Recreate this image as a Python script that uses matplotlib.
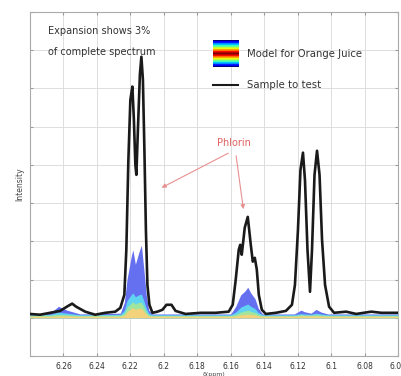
import numpy as np
import matplotlib
matplotlib.use("Agg")
import matplotlib.pyplot as plt

# Sample spectrum trace (ppm, intensity)
sample_ppm = [6.280, 6.274, 6.268, 6.262, 6.2572, 6.2548, 6.2524, 6.247, 6.241, 6.235,
              6.229, 6.226, 6.2236, 6.2224, 6.2212, 6.2200, 6.2188, 6.2179, 6.2170, 6.2164,
              6.2155, 6.2143, 6.2134, 6.2125, 6.2116, 6.2107, 6.2098, 6.2086, 6.2068, 6.2038,
              6.2008, 6.1984, 6.1954, 6.1930, 6.187, 6.178, 6.169, 6.1612, 6.1588, 6.1570,
              6.1552, 6.1543, 6.1534, 6.1516, 6.1498, 6.1480, 6.1468, 6.1456, 6.1444, 6.1432,
              6.1414, 6.139, 6.133, 6.127, 6.1234, 6.1216, 6.1198, 6.1183, 6.1168, 6.1156,
              6.1141, 6.1126, 6.1114, 6.1099, 6.1084, 6.1069, 6.1054, 6.1036, 6.1012, 6.0982,
              6.091, 6.085, 6.076, 6.070, 6.060]
sample_int = [0.10, 0.08, 0.13, 0.18, 0.31, 0.37, 0.29, 0.16, 0.08, 0.13,
              0.16, 0.26, 0.60, 1.78, 4.10, 5.70, 6.05, 5.20, 4.00, 3.74,
              4.90, 6.36, 6.83, 6.23, 4.40, 2.30, 0.86, 0.34, 0.13, 0.16,
              0.21, 0.34, 0.34, 0.18, 0.10, 0.13, 0.13, 0.16, 0.34, 1.00,
              1.78, 1.91, 1.65, 2.36, 2.64, 1.91, 1.47, 1.57, 1.26, 0.60,
              0.21, 0.10, 0.13, 0.18, 0.34, 0.86, 2.30, 3.87, 4.32, 3.60,
              1.78, 0.68, 1.78, 3.74, 4.37, 3.74, 2.04, 0.86, 0.29, 0.13,
              0.16, 0.10, 0.16, 0.13, 0.13]

# Model for orange juice: envelope layers (outer -> inner)
model_ppm = [6.280, 6.268, 6.263, 6.258, 6.250, 6.226, 6.2236, 6.2220, 6.2195, 6.2185,
             6.2170, 6.2150, 6.2134, 6.2120, 6.2105, 6.2090, 6.2070, 6.1600, 6.1570, 6.1540,
             6.1515, 6.1498, 6.1480, 6.1455, 6.1435, 6.1410, 6.1220, 6.1180, 6.1160, 6.1120,
             6.1090, 6.1060, 6.1020, 6.060]
model_blue = [0.10, 0.12, 0.30, 0.20, 0.10, 0.12, 0.40, 1.00, 1.60, 1.78,
              1.40, 1.70, 1.90, 1.30, 0.60, 0.20, 0.10, 0.10, 0.30, 0.60,
              0.70, 0.80, 0.65, 0.50, 0.25, 0.10, 0.10, 0.20, 0.16, 0.12,
              0.22, 0.15, 0.10, 0.10]
model_cyan = [0.08, 0.09, 0.15, 0.12, 0.08, 0.09, 0.20, 0.45, 0.60, 0.65,
              0.55, 0.60, 0.62, 0.45, 0.25, 0.12, 0.08, 0.08, 0.15, 0.28,
              0.33, 0.36, 0.30, 0.24, 0.14, 0.08, 0.08, 0.11, 0.10, 0.09,
              0.12, 0.10, 0.08, 0.08]
model_green = [0.06, 0.07, 0.09, 0.08, 0.06, 0.07, 0.12, 0.28, 0.38, 0.42,
               0.36, 0.40, 0.40, 0.30, 0.15, 0.08, 0.06, 0.06, 0.09, 0.15,
               0.18, 0.20, 0.17, 0.14, 0.09, 0.06, 0.06, 0.08, 0.07, 0.07,
               0.08, 0.07, 0.06, 0.06]
model_yellow = [0.04, 0.04, 0.05, 0.05, 0.04, 0.04, 0.07, 0.16, 0.24, 0.27,
                0.22, 0.25, 0.25, 0.18, 0.09, 0.05, 0.04, 0.04, 0.05, 0.08,
                0.09, 0.10, 0.09, 0.08, 0.05, 0.04, 0.04, 0.05, 0.05, 0.05,
                0.05, 0.05, 0.04, 0.04]

x_ticks = [6.26, 6.24, 6.22, 6.2, 6.18, 6.16, 6.14, 6.12, 6.1, 6.08, 6.06]
x_ticklabels = ["6.26", "6.24", "6.22", "6.2", "6.18", "6.16", "6.14", "6.12", "6.1", "6.08", "6.06"]

fig = plt.figure(figsize=(4.02, 3.76), dpi=100)
ax = fig.add_axes([0.0746, 0.0532, 0.9154, 0.9148])

base = 0.0
ax.fill_between(model_ppm, base, model_blue, color="#6470f0", lw=0, zorder=2)
ax.fill_between(model_ppm, base, model_cyan, color="#5fd3f0", lw=0, zorder=3)
ax.fill_between(model_ppm, base, model_green, color="#9ee6a0", lw=0, zorder=4)
ax.fill_between(model_ppm, base, model_yellow, color="#f2d27a", lw=0, zorder=5)

ax.plot(sample_ppm, sample_int, color="#1a1a1a", lw=1.9, zorder=6,
        solid_joinstyle="round")

ax.set_xlim(6.28, 6.06)
ax.set_ylim(-1, 8)
ax.set_xticks(x_ticks)
ax.set_xticklabels(x_ticklabels, fontsize=5.5, color="#333333")
ax.set_yticks(np.arange(-1, 9, 1))
ax.set_yticklabels([])
ax.tick_params(axis="both", length=2, color="#999999", direction="in", top=True, right=True, pad=4)
ax.grid(True, color="#dddddd", lw=0.7)
ax.set_axisbelow(True)
for s in ax.spines.values():
    s.set_color("#aaaaaa")
    s.set_linewidth(0.8)

ax.set_xlabel("δ(ppm)", fontsize=4.5, color="#444444", labelpad=1)
fig.text(0.048, 0.51, "Intensity", rotation=90, fontsize=5.5, color="#444444",
         ha="center", va="center")

ax.text(6.2695, 7.5, "Expansion shows 3%", fontsize=7, color="#333333", va="center")
ax.text(6.2695, 6.96, "of complete spectrum", fontsize=7, color="#333333", va="center")

# Legend: colour patch (jet stripes) and line
cax = fig.add_axes([213 / 402, 1 - 67 / 376, 26 / 402, 27 / 376])
grad = np.concatenate([np.linspace(0.1, 0.9, 20), np.linspace(0.9, 0.1, 20)]).reshape(-1, 1)
cax.imshow(grad, cmap="jet", aspect="auto", interpolation="nearest")
cax.axis("off")
fig.text(247 / 402, 1 - 54 / 376, "Model for Orange Juice", fontsize=7.3, color="#333333", va="center")
fig.add_artist(plt.Line2D([213 / 402, 238 / 402], [1 - 85 / 376, 1 - 85 / 376],
                          color="#1a1a1a", lw=1.5, transform=fig.transFigure))
fig.text(247 / 402, 1 - 85 / 376, "Sample to test", fontsize=7.3, color="#333333", va="center")

# Phlorin annotation
ax.text(6.1578, 4.58, "Phlorin", fontsize=7, color="#e06060", ha="center", va="center")
ax.annotate("", xy=(6.2028, 3.37), xytext=(6.1600, 4.34),
            arrowprops=dict(arrowstyle="-|>", color="#e89090", lw=0.8, mutation_scale=6))
ax.annotate("", xy=(6.1522, 2.77), xytext=(6.1570, 4.31),
            arrowprops=dict(arrowstyle="-|>", color="#e89090", lw=0.8, mutation_scale=6))

fig.savefig("out.png", dpi=100)
